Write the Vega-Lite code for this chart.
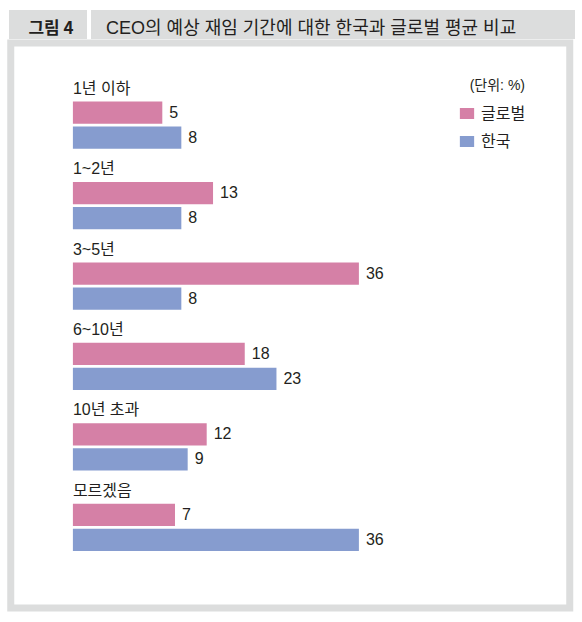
{
  "$schema": "https://vega.github.io/schema/vega-lite/v6.json",
  "background": "white",
  "padding": {"left": 7, "top": 10, "right": 9, "bottom": 11},
  "config": {
    "view": {"stroke": null},
    "font": "Liberation Sans Narrow, Liberation Sans, Noto Sans CJK KR, sans-serif",
    "text": {"color": "#231f20"}
  },
  "datasets": {
    "survey": [
      {"category": "1년 이하", "series": "글로벌", "value": 5},
      {"category": "1년 이하", "series": "한국", "value": 8},
      {"category": "1~2년", "series": "글로벌", "value": 13},
      {"category": "1~2년", "series": "한국", "value": 8},
      {"category": "3~5년", "series": "글로벌", "value": 36},
      {"category": "3~5년", "series": "한국", "value": 8},
      {"category": "6~10년", "series": "글로벌", "value": 18},
      {"category": "6~10년", "series": "한국", "value": 23},
      {"category": "10년 초과", "series": "글로벌", "value": 12},
      {"category": "10년 초과", "series": "한국", "value": 9},
      {"category": "모르겠음", "series": "글로벌", "value": 7},
      {"category": "모르겠음", "series": "한국", "value": 36}
    ]
  },
  "vconcat": [
    {
      "hconcat": [
        {
          "width": 78,
          "height": 29,
          "view": {"fill": "#dcdddd", "stroke": null},
          "data": {"values": [{"t": "그림 4"}]},
          "mark": {"type": "text", "font": "Noto Sans CJK KR", "fontSize": 17, "fontWeight": "bold", "baseline": "middle", "align": "center", "dx": 3, "dy": 4.5, "color": "#231f20"},
          "encoding": {"text": {"field": "t", "type": "nominal"}}
        },
        {
          "width": 484,
          "height": 29,
          "view": {"fill": "#dcdddd", "stroke": null},
          "data": {"values": [{"t": "CEO의 예상 재임 기간에 대한 한국과 글로벌 평균 비교"}]},
          "mark": {"type": "text", "fontSize": 18, "baseline": "middle", "align": "left", "dx": -227, "dy": 4.5, "color": "#231f20"},
          "encoding": {"text": {"field": "t", "type": "nominal"}}
        }
      ],
      "spacing": 4,
      "bounds": "flush"
    },
    {
      "width": 559,
      "height": 565,
      "view": {"fill": "white", "stroke": "#dcdddd", "strokeWidth": 7},
      "data": {"name": "survey"},
      "encoding": {
        "y": {
          "field": "category",
          "type": "nominal",
          "sort": null,
          "axis": null,
          "scale": {"paddingInner": 0, "paddingOuter": 0.512, "align": 0.4067}
        }
      },
      "layer": [
        {
          "mark": {"type": "bar"},
          "encoding": {
            "x": {
              "field": "value",
              "type": "quantitative",
              "axis": null,
              "scale": {"domain": [-18.9, 69.25], "nice": false, "zero": false}
            },
            "x2": {"datum": -9.1},
            "yOffset": {
              "field": "series",
              "type": "nominal",
              "scale": {"domain": ["글로벌", "한국"], "paddingInner": 0.108, "paddingOuter": 0.6628, "align": 0.7544}
            },
            "color": {
              "field": "series",
              "type": "nominal",
              "scale": {"domain": ["글로벌", "한국"], "range": ["#d580a6", "#869ccf"]},
              "legend": {
                "title": "(단위: %)",
                "orient": "none",
                "legendX": 450,
                "legendY": 68.5,
                "padding": 0,
                "titleAnchor": "end",
                "titleAlign": "right",
                "titleFontSize": 14,
                "titleFontWeight": "normal",
                "titleColor": "#231f20",
                "titlePadding": 13,
                "symbolType": "M-1,-0.77H1V0.77H-1Z",
                "symbolSize": 204,
                "symbolStrokeWidth": 0,
                "symbolOpacity": 1,
                "labelFontSize": 16,
                "labelColor": "#231f20",
                "labelOffset": 6,
                "rowPadding": 12
              }
            }
          }
        },
        {
          "mark": {"type": "text", "align": "left", "baseline": "middle", "dx": 7, "fontSize": 16, "color": "#231f20"},
          "encoding": {
            "x": {"field": "value", "type": "quantitative"},
            "yOffset": {"field": "series", "type": "nominal"},
            "text": {"field": "value", "type": "quantitative"}
          }
        },
        {
          "transform": [{"filter": {"field": "series", "equal": "글로벌"}}],
          "mark": {"type": "text", "align": "left", "baseline": "middle", "fontSize": 16, "color": "#231f20"},
          "encoding": {
            "x": {"datum": -9.1, "type": "quantitative"},
            "y": {"field": "category", "type": "nominal", "sort": null, "bandPosition": 0.152},
            "text": {"field": "category", "type": "nominal"}
          }
        }
      ]
    }
  ],
  "spacing": 0,
  "center": true,
  "bounds": "full"
}
